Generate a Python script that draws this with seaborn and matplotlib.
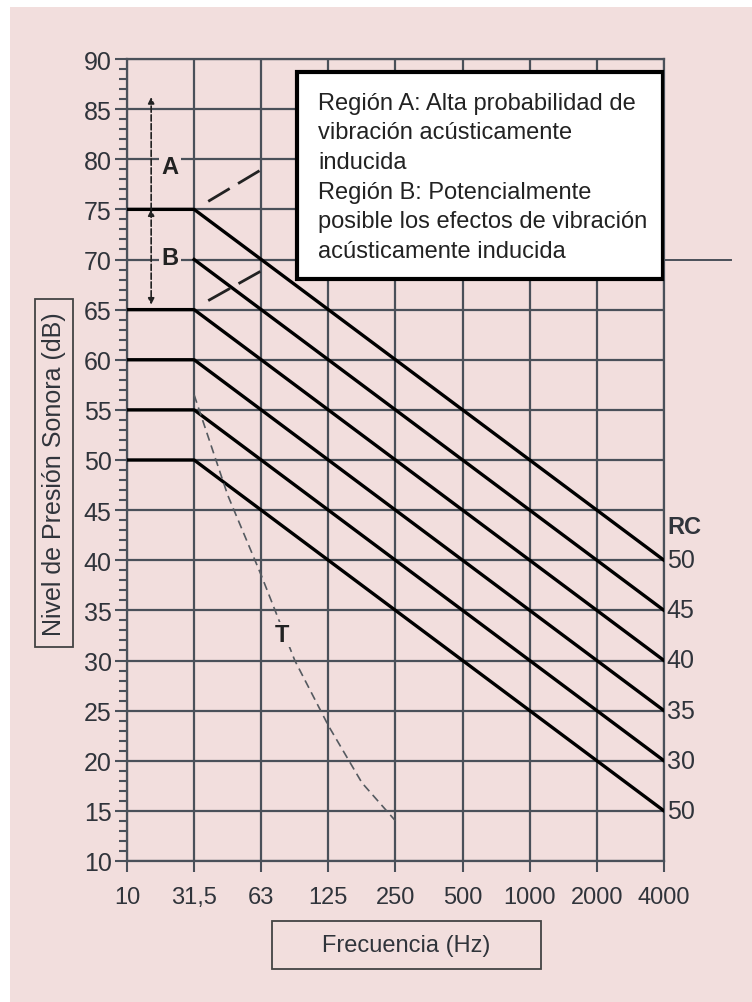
import numpy as np
import pandas as pd
import seaborn as sns
import matplotlib.pyplot as plt
from matplotlib.patches import Rectangle
from matplotlib.ticker import MultipleLocator

# bandas de octava (posiciones equiespaciadas en el eje)
bandas = ['10', '31,5', '63', '125', '250', '500', '1000', '2000', '4000']

# curvas RC (dB) por banda
rc_50 = [75, 75, 70, 65, 60, 55, 50, 45, 40]
rc_45 = [np.nan, 70, 65, 60, 55, 50, 45, 40, 35]
rc_40 = [65, 65, 60, 55, 50, 45, 40, 35, 30]
rc_35 = [60, 60, 55, 50, 45, 40, 35, 30, 25]
rc_30 = [55, 55, 50, 45, 40, 35, 30, 25, 20]
rc_ult = [50, 50, 45, 40, 35, 30, 25, 20, 15]
rc_curvas = [rc_50, rc_45, rc_40, rc_35, rc_30, rc_ult]
rc_etiquetas = ['50', '45', '40', '35', '30', '50']

# curva T (umbral), posicion en el eje de bandas y nivel
t_pos = [1, 1.5, 2, 2.5, 3, 3.5, 4]
t_nivel = [56.5, 46.5, 38.5, 30.0, 23.5, 17.8, 14.0]

rosa = '#f2dedd'
gris = '#4a5059'
texto = '#30343b'
fs = 17

fig = plt.figure(figsize=(7.52, 10.03), dpi=100)
plt.rcParams['font.family'] = ['Liberation Sans', 'DejaVu Sans']
fig.patches.append(Rectangle((10 / 752, 0), 1, 1 - 8 / 1003, transform=fig.transFigure,
                             facecolor=rosa, edgecolor='none', zorder=-10))

ax = fig.add_axes([127 / 752, 1 - 862 / 1003, 537 / 752, 802 / 1003])
ax.set_facecolor(rosa)

x = np.arange(len(bandas))
for vals in rc_curvas:
    df = pd.DataFrame({'banda': x, 'nivel': vals}).dropna()
    sns.lineplot(data=df, x='banda', y='nivel', color='black', lw=2.4, ax=ax, zorder=4)

sns.lineplot(x=t_pos, y=t_nivel, color='#555a60', lw=1.2, ax=ax, zorder=4,
             linestyle=(0, (5, 3)))

ax.set_xlim(0, 8)
ax.set_ylim(10, 90)
ax.set_xticks(x)
ax.set_xticklabels(bandas, fontsize=fs, color=texto)
ax.yaxis.set_major_locator(MultipleLocator(5))
ax.yaxis.set_minor_locator(MultipleLocator(1))
ax.tick_params(axis='y', labelsize=18, labelcolor=texto, colors=gris, which='both', width=1.5)
ax.tick_params(axis='y', which='major', length=9, pad=2)
ax.tick_params(axis='y', which='minor', length=6)
ax.tick_params(axis='x', length=8, width=1.5, colors=gris, labelcolor=texto, pad=10)
ax.grid(True, which='major', color=gris, lw=1.6, zorder=1)
ax.set_axisbelow(True)
for s in ax.spines.values():
    s.set_color(gris)
    s.set_linewidth(1.6)
ax.set_xlabel('')
ax.set_ylabel('')

# extension de la linea de 70 dB fuera del area
ax.plot([8, 9.0], [70, 70], color=gris, lw=1.4, clip_on=False)

# flechas regiones A y B
ax.annotate('', xy=(0.36, 86.2), xytext=(0.36, 75),
            arrowprops=dict(arrowstyle='-|>', lw=1.2, ls='--', color='#222', mutation_scale=9,
                            shrinkA=0, shrinkB=0), zorder=6)
ax.annotate('', xy=(0.36, 65.5), xytext=(0.36, 75),
            arrowprops=dict(arrowstyle='<|-|>', lw=1.2, ls='--', color='#222', mutation_scale=9,
                            shrinkA=0, shrinkB=0), zorder=6)
ax.text(0.64, 79.3, 'A', fontsize=fs, fontweight='bold', color='#222', ha='center', va='center',
        bbox=dict(fc=rosa, ec='none', pad=2), zorder=6)
ax.text(0.64, 70.2, 'B', fontsize=fs, fontweight='bold', color='#222', ha='center', va='center',
        bbox=dict(fc=rosa, ec='none', pad=2), zorder=6)

# limites de region (trazos)
ax.plot([1.21, 2.01], [75.8, 79.0], color='#222', lw=2, dashes=(9, 3.5), zorder=5)
ax.plot([1.21, 2.01], [65.9, 68.9], color='#222', lw=2, dashes=(9, 3.5), zorder=5)

ax.text(2.31, 32.6, 'T', fontsize=fs, fontweight='bold', color='#222', ha='center', va='center',
        bbox=dict(fc=rosa, ec='none', pad=1), zorder=6)

# etiquetas RC
ax.text(8.3, 43.4, 'RC', fontsize=fs, fontweight='bold', color=texto, ha='center', va='center',
        clip_on=False)
for vals, lab in zip(rc_curvas, rc_etiquetas):
    ax.text(8.04, vals[-1], lab, fontsize=18, color=texto, ha='left', va='center', clip_on=False)

# cuadro de leyenda
ax.add_patch(Rectangle((0.317, 0.726), 0.681, 0.258, transform=ax.transAxes,
                       facecolor='white', edgecolor='black', lw=3, zorder=7))
ax.text(0.356, 0.853,
        'Región A: Alta probabilidad de\nvibración acústicamente\ninducida\n'
        'Región B: Potencialmente\nposible los efectos de vibración\nacústicamente inducida',
        transform=ax.transAxes, fontsize=fs, color='#222', ha='left', va='center',
        linespacing=1.45, zorder=8)

# titulos de ejes en recuadros
fig.patches.append(Rectangle((35 / 752, 1 - 648 / 1003), 38 / 752, 348 / 1003,
                             transform=fig.transFigure, facecolor='none', edgecolor='#444', lw=1.3))
fig.text(54 / 752, 1 - 474 / 1003, 'Nivel de Presión Sonora (dB)', rotation=90,
         fontsize=18, color=texto, ha='center', va='center')
fig.patches.append(Rectangle((272 / 752, 1 - 970 / 1003), 269 / 752, 48 / 1003,
                             transform=fig.transFigure, facecolor='none', edgecolor='#444', lw=1.3))
fig.text(406 / 752, 1 - 946 / 1003, 'Frecuencia (Hz)', fontsize=17, color=texto,
         ha='center', va='center')

fig.savefig('out.png', dpi=100)
